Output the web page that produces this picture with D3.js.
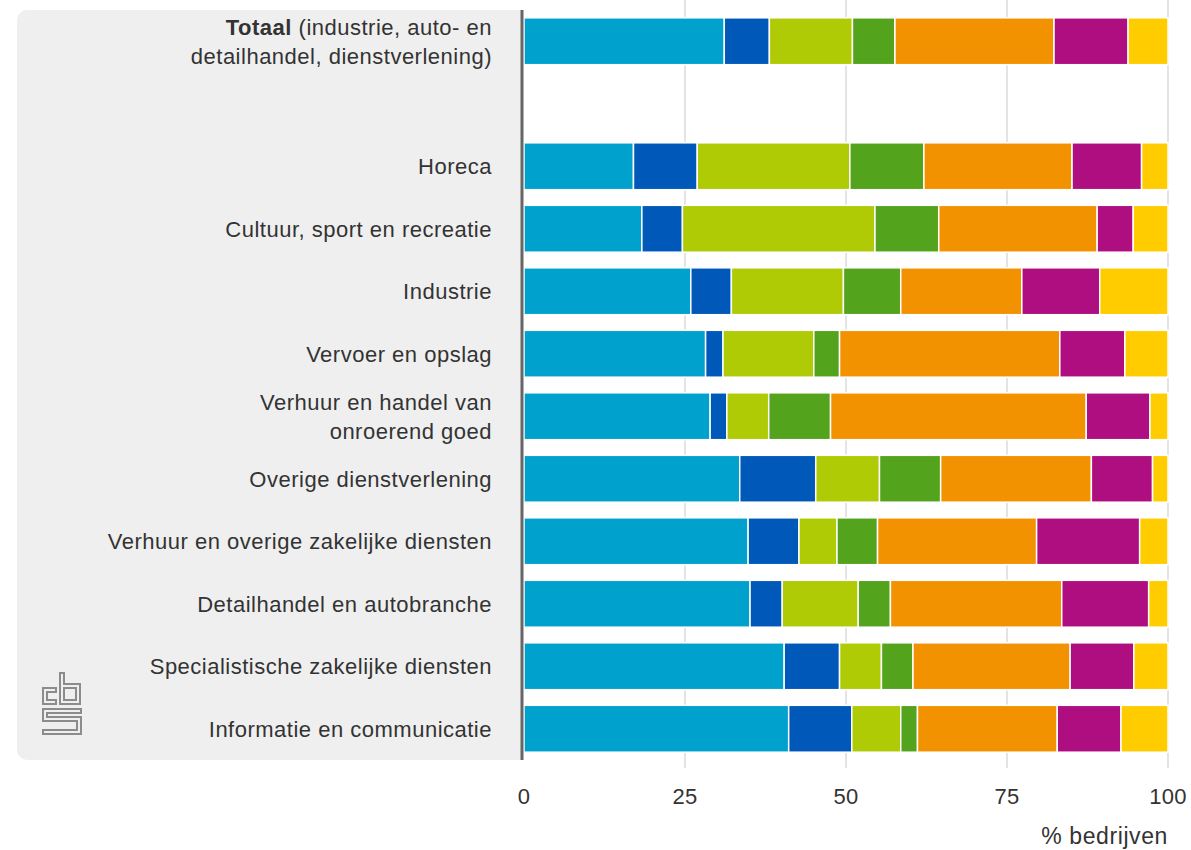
<!DOCTYPE html>
<html><head><meta charset="utf-8">
<script src="https://cdn.jsdelivr.net/npm/d3@7"></script>
<style>body{margin:0;background:#fff;font-family:"Liberation Sans",Arial,sans-serif;}</style>
</head><body>
<svg id="chart" width="1191" height="850"></svg>
<script>
const categories = ["Totaal","","Horeca","Cultuur, sport en recreatie","Industrie","Vervoer en opslag",
 "Verhuur en handel van onroerend goed","Overige dienstverlening","Verhuur en overige zakelijke diensten",
 "Detailhandel en autobranche","Specialistische zakelijke diensten","Informatie en communicatie"];
const labelLines = [
 [[{t:"Totaal",b:true},{t:" (industrie, auto- en"}],[{t:"detailhandel, dienstverlening)"}]],
 [],
 [[{t:"Horeca"}]],
 [[{t:"Cultuur, sport en recreatie"}]],
 [[{t:"Industrie"}]],
 [[{t:"Vervoer en opslag"}]],
 [[{t:"Verhuur en handel van"}],[{t:"onroerend goed"}]],
 [[{t:"Overige dienstverlening"}]],
 [[{t:"Verhuur en overige zakelijke diensten"}]],
 [[{t:"Detailhandel en autobranche"}]],
 [[{t:"Specialistische zakelijke diensten"}]],
 [[{t:"Informatie en communicatie"}]]
];
const seriesKeys = ["s1","s2","s3","s4","s5","s6","s7"];
const seriesColors = ["#00a1cd","#0058b8","#afcb05","#53a31d","#f39200","#af0e80","#ffcc00"];
const s1 = [31.1,null,17.0,18.3,25.9,28.2,28.9,33.5,34.8,35.1,40.4,41.1];
const s2 = [7.0,null,9.9,6.3,6.3,2.7,2.6,11.8,7.9,5.0,8.6,9.8];
const s3 = [12.9,null,23.7,29.9,17.4,14.1,6.5,9.9,5.9,11.8,6.5,7.6];
const s4 = [6.6,null,11.5,9.9,8.9,4.0,9.6,9.5,6.3,5.0,4.9,2.6];
const s5 = [24.7,null,23.0,24.6,18.8,34.2,39.7,23.4,24.7,26.6,24.4,21.7];
const s6 = [11.5,null,10.8,5.6,12.1,10.1,9.9,9.5,16.0,13.5,9.9,9.9];
const s7 = [6.2,null,4.1,5.4,10.6,6.7,2.8,2.4,4.4,3.0,5.3,7.3];
const ticks = [0,25,50,75,100];
const axisTitle = "% bedrijven";

const svg = d3.select("#chart");
const x = d3.scaleLinear().domain([0,100]).range([524,1168]);
const y = d3.scaleBand().domain(d3.range(categories.length)).range([10,760]).paddingInner(0.25).paddingOuter(0.125);

// background panel
svg.append("rect").attr("x",17).attr("y",10).attr("width",520).attr("height",750).attr("rx",10).attr("fill","#efefef");
svg.append("rect").attr("x",522).attr("y",10).attr("width",20).attr("height",750).attr("fill","#fff");

// gridlines
svg.append("g").selectAll("line").data(ticks.slice(1)).join("line")
 .attr("x1",d=>x(d)).attr("x2",d=>x(d)).attr("y1",0).attr("y2",768)
 .attr("stroke","#d2d2d2").attr("stroke-width",1.2);

// stacked data
const rows = categories.map((c,i)=>({i, s1:s1[i],s2:s2[i],s3:s3[i],s4:s4[i],s5:s5[i],s6:s6[i],s7:s7[i]})).filter(r=>r.s1!=null);
const stack = d3.stack().keys(seriesKeys)(rows);
stack.forEach((layer,k)=>{
  svg.append("g").selectAll("rect").data(layer).join("rect")
   .attr("x",d=>x(d[0])).attr("width",d=>Math.max(0,x(d[1])-x(d[0])))
   .attr("y",d=>y(d.data.i)).attr("height",y.bandwidth())
   .attr("fill",seriesColors[k]).attr("stroke","#fff").attr("stroke-width",1.5);
});

// axis line
svg.append("line").attr("x1",522).attr("x2",522).attr("y1",10).attr("y2",760).attr("stroke","#666").attr("stroke-width",3);

// category labels
labelLines.forEach((lines,i)=>{
  if(!lines.length) return;
  const cy = y(i)+y.bandwidth()/2;
  const lh = 29;
  const t = svg.append("text").attr("text-anchor","end").attr("font-size",22).attr("letter-spacing","0.5px").attr("fill","#333");
  lines.forEach((ln,j)=>{
    const yy = cy + (j-(lines.length-1)/2)*lh + 8;
    ln.forEach((seg,m)=>{
      const ts = t.append("tspan").text(seg.t).attr("font-weight",seg.b?"bold":"normal");
      if(m===0) ts.attr("x",492).attr("y",yy);
    });
  });
});

// tick labels
svg.append("g").selectAll("text").data(ticks).join("text")
 .attr("x",d=>x(d)).attr("y",804).attr("text-anchor","middle").attr("font-size",22).attr("letter-spacing","0.3px").attr("fill","#333")
 .text(d=>d);
svg.append("text").attr("x",1168).attr("y",844).attr("text-anchor","end").attr("font-size",23).attr("letter-spacing","0.6px").attr("fill","#333").text(axisTitle);

// CBS logo (approximation)
const logo = svg.append("g").attr("fill","none").attr("stroke","#8c8c8c").attr("stroke-width",2);
logo.append("path").attr("d","M43,688 H56 V692 H47 V700 H56 V704 H43 Z");
logo.append("path").attr("d","M60,673 H64 V684 H80 V704 H60 Z M64,688 V700 H76 V688 Z");
logo.append("path").attr("d","M43,709 H81 V713 H47 V717 H81 V734 H43 V730 H77 V721 H43 Z");
</script>
</body></html>
